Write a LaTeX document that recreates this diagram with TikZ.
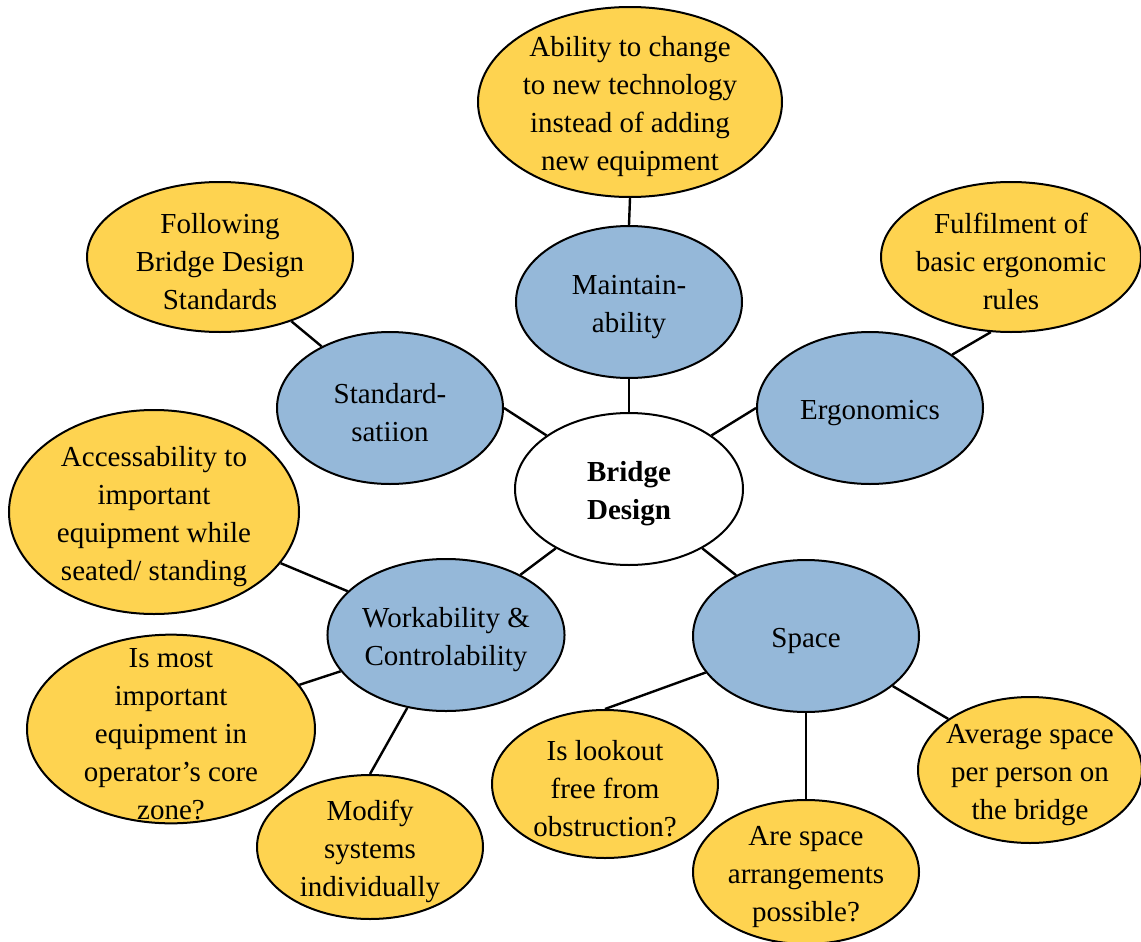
\documentclass[tikz,border=0pt]{standalone}
\usepackage{fontspec,xcolor,tikz}
\usetikzlibrary{shapes.geometric}
\setmainfont{Liberation Serif}
\definecolor{ink}{HTML}{000000}
\definecolor{gold}{HTML}{FED350}
\definecolor{stahl}{HTML}{95B8D9}
\newcommand{\blt}{\fontsize{14.5}{19}\selectfont}
\newcommand{\ob}{\rule{0pt}{14.5pt}}
\tikzset{blase/.style={ellipse,draw=ink,line width=1pt,inner sep=0pt,align=center,text=ink,font=\blt},
  kern/.style={blase,fill=white,minimum width=114pt,minimum height=76pt,font=\blt\bfseries},
  thema/.style={blase,fill=stahl,minimum width=113pt,minimum height=76pt},
  punkt/.style={blase,fill=gold,inner xsep=-6pt,inner ysep=-12pt},
  ast/.style={ink,line width=1.2pt}}

\begin{document}
\begin{tikzpicture}[x=0.5pt,y=-0.5pt]
\useasboundingbox (0,0) rectangle (1141,942);
% Mitte und Themen
\node[kern] (bd) at (629,489) {\ob Bridge\\Design};
\node[thema] (mt) at (629,302) {\ob Maintain-\\ability};
\node[thema] (st) at (390,408) {\ob Standard-\\satiion};
\node[thema] (er) at (870,408) {\ob Ergonomics};
\node[thema] (wk) at (446,635) {\ob Workability \&\\Controlability};
\node[thema] (sp) at (806,636) {\ob Space};
% Punkte
\node[punkt,minimum width=152pt,minimum height=95pt] (ab) at (630,102) {\ob Ability to change\\to new technology\\instead of adding\\new equipment};
\node[punkt,minimum width=133pt,minimum height=75pt] (fo) at (220,257) {\ob Following\\Bridge Design\\Standards};
\node[punkt,minimum width=130pt,minimum height=75pt] (fu) at (1011,257) {\ob Fulfilment of\\basic ergonomic\\rules};
\node[punkt,minimum width=145pt,minimum height=102pt] (ac) at (154,512) {\ob Accessability to\\important\\equipment while\\seated/ standing};
\node[punkt,minimum width=144pt,minimum height=94pt] (im) at (171,729) {\ob Is most\\important\\equipment in\\operator's core\\zone?};
\node[punkt,minimum width=113pt,minimum height=72pt] (mo) at (370,847) {\ob Modify\\systems\\individually};
\node[punkt,minimum width=113pt,minimum height=74pt] (lo) at (605,784) {\ob Is lookout\\free from\\obstruction?};
\node[punkt,minimum width=113pt,minimum height=72pt] (ar) at (806,872) {\ob Are space\\arrangements\\possible?};
\node[punkt,minimum width=112pt,minimum height=73pt] (av) at (1030,770) {\ob Average space\\per person on\\the bridge};
% Verbinder
\draw[ast] (bd.90) -- (mt.270);
\draw[ast] (bd.147) -- (st.0);
\draw[ast] (bd.33) -- (er.180);
\draw[ast] (bd.219) -- (wk.39);
\draw[ast] (bd.321) -- (sp.139);
\draw[ast] (mt.90) -- (ab.270);
\draw[ast] (st.138) -- (fo.318);
\draw[ast] (er.33) -- (fu.255);
\draw[ast] (wk.156) -- (ac.338);
\draw[ast] (wk.199) -- (im.19);
\draw[ast] (wk.242) -- (mo.90);
\draw[ast] (sp.200) -- (lo.90);
\draw[ast] (sp.270) -- (ar.90);
\draw[ast] (sp.330) -- (av.148);
\end{tikzpicture}
\end{document}
